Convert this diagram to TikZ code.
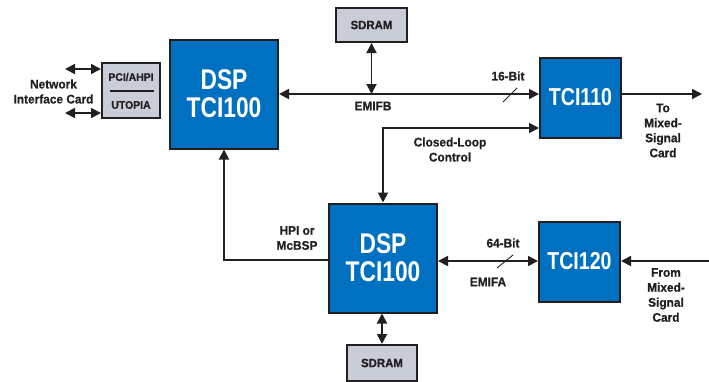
\documentclass[tikz,border=0pt]{standalone}
\usepackage{fontspec}
\setmainfont{Liberation Sans}
\newfontfamily\condfont{Liberation Sans}[FakeStretch=0.8]
\newfontfamily\lblfont{Liberation Sans}[FakeStretch=0.95, FakeBold=0.6]
\usepackage{tikz}
\usetikzlibrary{calc, positioning, arrows.meta}
\definecolor{dspblue}{RGB}{0,112,192}
\definecolor{memgray}{RGB}{200,205,216}
\definecolor{ink}{RGB}{35,31,32}
\tikzset{
  chip/.style={draw=ink, line width=2pt, fill=dspblue, text=white, align=center, inner sep=0pt},
  bigchip/.style={chip, minimum width=108, minimum height=109, font=\condfont\bfseries\fontsize{28.5}{28}\selectfont},
  tcichip/.style={chip, minimum width=81, minimum height=80, font=\condfont\bfseries\fontsize{24.5}{24}\selectfont},
  mem/.style={draw=ink, line width=2pt, fill=memgray, text=ink, inner sep=0pt, font=\lblfont\bfseries\fontsize{12}{12}\selectfont},
  lbl/.style={text=ink, align=center, inner sep=0pt, font=\lblfont\bfseries\fontsize{12.5}{15}\selectfont},
  bus/.style={draw=ink, line width=1.8pt},
  arw/.style={bus, -{Triangle[length=10pt,width=10pt]}},
  darw/.style={bus, {Triangle[length=10pt,width=10pt]}-{Triangle[length=10pt,width=10pt]}}
}
\begin{document}
\begin{tikzpicture}[x=1pt,y=-1pt]
\useasboundingbox (0,0) rectangle (709,381);
% chips
\node[bigchip] (dspb) at (224,94) {DSP\\TCI100};
\node[bigchip] (dspa) at (383,258) {DSP\\TCI100};
\node[tcichip] (tcib) at (580.5,97.5) {TCI110};
\node[tcichip] (tcia) at (579.5,261.5) {TCI120};
% memories and host port
\node[mem, minimum width=71, minimum height=34] (sdramb) at (371.5,25) {SDRAM};
\node[mem, minimum width=70, minimum height=36] (sdrama) at (382,363) {SDRAM};
\node[mem, minimum width=58, minimum height=55] (pci) at (131,90.5) {};
\node[lbl, font=\lblfont\bfseries\fontsize{11}{11}\selectfont] (pcitxt) at (131,77) {PCI/AHPI};
\node[lbl, font=\lblfont\bfseries\fontsize{11}{11}\selectfont] (utopia) at (131,105) {UTOPIA};
\draw[ink, line width=1.6pt] (110,91) -- (154,91);
% free ends
\coordinate (nicup) at (65,69);
\coordinate (niclo) at (65,113);
\coordinate (tomix) at (702,94);
\coordinate (frommix) at (709,261);
% labels
\node[lbl] (nic) at (53.5,91.5) {Network\\Interface Card};
\node[lbl] (emifb) at (373,106) {EMIFB};
\node[lbl] (bitb) at (508,76) {16-Bit};
\node[lbl] (tomixtxt) at (663,130.5) {To\\Mixed-\\Signal\\Card};
\node[lbl] (loop) at (450,149.5) {Closed-Loop\\Control};
\node[lbl] (hpi) at (297,238) {HPI or\\McBSP};
\node[lbl] (bita) at (503,243) {64-Bit};
\node[lbl] (emifa) at (488,282) {EMIFA};
\node[lbl] (frommixtxt) at (666,295) {From\\Mixed-\\Signal\\Card};
% connectors
\draw[darw] (nicup) -- (nicup -| pci.west);
\draw[darw] (niclo) -- (niclo -| pci.west);
\draw[darw] (dspb.east) -- (dspb.east -| tcib.west);
\draw[darw] (sdramb.south) -- (sdramb.south |- dspb.east);
\draw[arw] (tcib.east |- tomix) -- (tomix);
\draw[darw] (tcib.west |- 0,128) -| (dspa.north);
\draw[arw] (dspa.west |- 0,260) -| (dspb.south);
\draw[darw] (dspa.east |- frommix) -- (tcia.west |- frommix);
\draw[arw] (frommix) -- (tcia.east |- frommix);
\draw[darw] (dspa.south -| sdrama.north) -- (sdrama.north);
% bus width marks
\draw[ink, line width=0.9pt] (503,102) -- (517,88);
\draw[ink, line width=0.9pt] (497,268) -- (513,255);
\end{tikzpicture}
\end{document}
